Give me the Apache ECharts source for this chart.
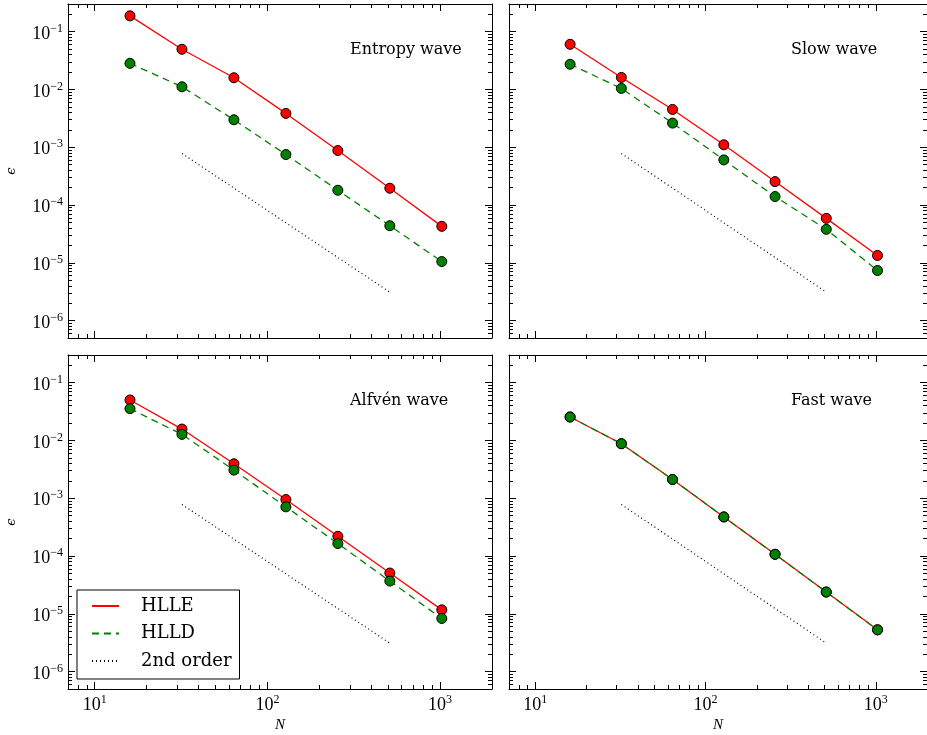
<!DOCTYPE html>
<html>
<head>
<meta charset="utf-8">
<script src="https://cdn.jsdelivr.net/npm/echarts@6/dist/echarts.min.js"></script>
<style>
html,body{margin:0;padding:0;background:#fff;}
#chart{width:927px;height:735px;}
</style>
</head>
<body>
<div id="chart"></div>
<script>
// ---------------- data ----------------
const N = [16, 32, 64, 128, 256, 512, 1024];
const entropyHLLE = [0.187, 0.0494, 0.0159, 0.00384, 8.75e-4, 1.95e-4, 4.27e-5];
const entropyHLLD = [0.0282, 0.0111, 0.00298, 7.46e-4, 1.80e-4, 4.38e-5, 1.05e-5];
const slowHLLE = [0.0602, 0.0161, 0.00450, 0.00110, 2.54e-4, 5.87e-5, 1.34e-5];
const slowHLLD = [0.0272, 0.0104, 0.00261, 6.03e-4, 1.40e-4, 3.79e-5, 7.36e-6];
const alfvenHLLE = [0.0500, 0.0157, 0.00394, 9.48e-4, 2.19e-4, 5.07e-5, 1.17e-5];
const alfvenHLLD = [0.0354, 0.0127, 0.00306, 7.08e-4, 1.64e-4, 3.68e-5, 8.30e-6];
const fastHLLE = [0.0254, 0.00876, 0.00211, 4.74e-4, 1.07e-4, 2.38e-5, 5.28e-6];
const fastHLLD = [0.0254, 0.00876, 0.00211, 4.74e-4, 1.07e-4, 2.38e-5, 5.28e-6];
const refN = [32, 512];
const refErr = [7.8e-4, 3.1e-6];
const panelTitles = ['Entropy wave', 'Slow wave', 'Alfvén wave', 'Fast wave'];
const seriesNames = ['HLLE', 'HLLD', '2nd order'];
const xMajorExp = [1, 2, 3];           // tick labels 10^1 .. 10^3
const yMajorExp = [-6, -5, -4, -3, -2, -1]; // tick labels 10^-6 .. 10^-1
const xRange = [7, 2000];
const yRange = [5e-7, 0.3];

// ---------------- helpers ----------------
const lg = Math.log10;
function minorTicks(expFrom, expTo, lo, hi) {
  const out = [];
  for (let e = expFrom; e <= expTo; e++) {
    for (let m = 2; m <= 9; m++) {
      const v = lg(m) + e;
      if (v >= lo && v <= hi) out.push(v);
    }
  }
  return out;
}
const xMin = lg(xRange[0]), xMax = lg(xRange[1]);
const yMin = lg(yRange[0]), yMax = lg(yRange[1]);
const xMinor = minorTicks(0, 3, xMin, xMax);
const yMinor = minorTicks(-7, -1, yMin, yMax);

const tickFont = 'Liberation Serif';
const rich = {
  b: {fontSize: 18, lineHeight: 18, fontFamily: tickFont, color: '#000', padding: [5, 0, 0, 0]},
  s: {fontSize: 12, lineHeight: 12, fontFamily: tickFont, color: '#000', verticalAlign: 'top'}
};
function powFmt(v) {
  const e = Math.round(v);
  const es = e < 0 ? '\u2212' + Math.abs(e) : String(e);
  return '{b|10}{s|' + es + '}';
}

const layout = [
  {left: 68, top: 4, xlab: false, ylab: true},
  {left: 509, top: 4, xlab: false, ylab: false},
  {left: 68, top: 355, xlab: true, ylab: true},
  {left: 509, top: 355, xlab: true, ylab: false}
];
const W = 424, H = 334;
const panelData = [
  [entropyHLLE, entropyHLLD],
  [slowHLLE, slowHLLD],
  [alfvenHLLE, alfvenHLLD],
  [fastHLLE, fastHLLD]
];

const grids = [], xAxes = [], yAxes = [], series = [], graphics = [];
const lineCol = '#000';

function axisCommon(isX, gi, pos, ticks, len, showLine) {
  return {
    type: 'value', gridIndex: gi, position: pos,
    min: isX ? xMin : yMin, max: isX ? xMax : yMax,
    splitLine: {show: false},
    axisLine: {show: showLine, onZero: false, lineStyle: {color: lineCol, width: 1}},
    axisTick: {show: true, inside: true, length: len, customValues: ticks, lineStyle: {color: lineCol, width: 1}},
    axisLabel: {show: false}
  };
}
function labelCfg(vals) {
  return {show: true, customValues: vals, formatter: powFmt, rich: rich, margin: 5,
          fontFamily: tickFont, fontSize: 18, color: '#000'};
}

layout.forEach((L, gi) => {
  grids.push({left: L.left, top: L.top, width: W, height: H, containLabel: false});
  const xb = axisCommon(true, gi, 'bottom', xMajorExp, 7, true);
  if (L.xlab) {
    xb.axisLabel = labelCfg(xMajorExp);
    xb.name = 'N';
    xb.nameLocation = 'middle';
    xb.nameGap = 29;
    xb.nameTextStyle = {fontFamily: tickFont, fontStyle: 'italic', fontSize: 15, color: '#000'};
  }
  xAxes.push(xb);
  xAxes.push(axisCommon(true, gi, 'bottom', xMinor, 4, false));
  xAxes.push(axisCommon(true, gi, 'top', xMajorExp, 7, true));
  xAxes.push(axisCommon(true, gi, 'top', xMinor, 4, false));
  const yl = axisCommon(false, gi, 'left', yMajorExp, 7, true);
  if (L.ylab) {
    yl.axisLabel = labelCfg(yMajorExp);
    yl.name = '\u03f5';
    yl.nameLocation = 'middle';
    yl.nameGap = 50;
    yl.nameRotate = 90;
    yl.nameTextStyle = {fontFamily: 'DejaVu Serif', fontStyle: 'italic', fontSize: 13, color: '#000'};
  }
  yAxes.push(yl);
  yAxes.push(axisCommon(false, gi, 'left', yMinor, 4, false));
  yAxes.push(axisCommon(false, gi, 'right', yMajorExp, 7, true));
  yAxes.push(axisCommon(false, gi, 'right', yMinor, 4, false));

  graphics.push({
    type: 'text', x: L.left + 282, y: L.top + 46,
    style: {text: panelTitles[gi], font: '16px "DejaVu Serif"', fill: '#000', verticalAlign: 'middle'}
  });
});

const styles = [
  {color: '#ff0000', type: 'solid'},
  {color: '#008000', type: [7, 5]},
  {color: '#000000', type: [1, 3]}
];

panelData.forEach((pd, gi) => {
  series.push({
    type: 'line', name: '2nd order', xAxisIndex: gi * 4, yAxisIndex: gi * 4,
    data: refN.map((n, i) => [lg(n), lg(refErr[i])]),
    symbol: 'none', silent: true, animation: false,
    itemStyle: {color: '#000'},
    lineStyle: {color: '#000', type: [1, 3], width: 1.2}
  });
  pd.forEach((arr, k) => {
    series.push({
      type: 'line', name: seriesNames[k], xAxisIndex: gi * 4, yAxisIndex: gi * 4,
      data: N.map((n, i) => [lg(n), lg(arr[i])]),
      symbol: 'circle', symbolSize: 10, showSymbol: true, animation: false,
      itemStyle: {color: styles[k].color, borderColor: '#000', borderWidth: 1},
      lineStyle: {color: styles[k].color, type: styles[k].type, width: 1.3},
      silent: true
    });
  });
});

const chart = echarts.init(document.getElementById('chart'), null, {renderer: 'canvas'});
chart.setOption({
  backgroundColor: '#fff',
  animation: false,
  grid: grids,
  xAxis: xAxes,
  yAxis: yAxes,
  series: series,
  graphic: graphics,
  legend: {
    data: seriesNames,
    orient: 'vertical', left: 77, top: 590,
    itemWidth: 27, itemHeight: 14, itemGap: 9.5,
    padding: [7, 8, 9, 14],
    borderColor: '#000', borderWidth: 1, backgroundColor: '#fff',
    selectedMode: false,
    itemStyle: {opacity: 0, borderWidth: 0},
    textStyle: {fontFamily: 'DejaVu Serif', fontSize: 18, color: '#000', padding: [0, 0, 0, 17]}
  }
});
</script>
</body>
</html>
